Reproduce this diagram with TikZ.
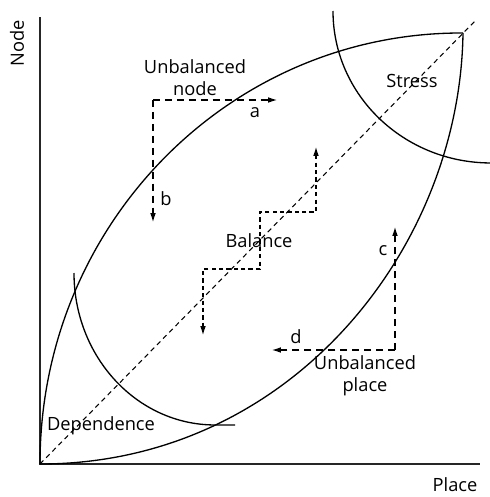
\documentclass[tikz,border=0pt]{standalone}
\usepackage{fontspec}
\setmainfont{Open Sans}
\usetikzlibrary{arrows.meta}

\begin{document}
\begin{tikzpicture}[
  x=0.02cm, y=-0.02cm,
  every node/.style={font=\fontsize{10.4}{12.5}\selectfont, inner sep=0pt, align=center},
  axis/.style={line width=0.9pt, black!85},
  curve/.style={line width=0.75pt},
  move/.style={line width=0.6pt, dash pattern=on 4pt off 2.8pt, -{Latex[length=5pt,width=3.2pt]}},
  stair/.style={line width=0.6pt, dash pattern=on 2.4pt off 1.8pt,
                {Latex[length=5pt,width=3.2pt]}-{Latex[length=5pt,width=3.2pt]}},
  diag/.style={line width=0.6pt, dash pattern=on 2.8pt off 2.2pt}
]
  \useasboundingbox (0,0) rectangle (490,497);

  % axes
  \coordinate (o) at (40,464);
  \coordinate (ytop) at (40,17);
  \coordinate (xend) at (480,464);
  \draw[axis] (ytop) -- (o) -- (xend);
  \node[rotate=90] (ylab) at (17,43) {Node};
  \node (xlab) at (455,485) {Place};

  % lens and balance line
  \coordinate (tip) at (463,33);
  \coordinate (dend) at (477,19);
  \draw[curve] (o) .. controls (40,224) and (230,32) .. (tip);
  \draw[curve] (o) .. controls (290,464) and (460,249) .. (tip);
  \draw[diag] (o) -- (dend);

  % stress and dependence zones
  \draw[curve] (333,11) arc[start angle=180, end angle=270, x radius=3.16cm, y radius=3.04cm];
  \draw[curve] (74,273) arc[start angle=180, end angle=270, x radius=2.82cm, y radius=3.04cm] -- (235,425);
  \node (stress) at (412,81) {Stress};
  \node (dep) at (101,426) {Dependence};

  % unbalanced node
  \coordinate (nc) at (153,100);
  \coordinate (na) at (277,100);
  \coordinate (nb) at (153,222);
  \draw[move] (nc) -- (na);
  \draw[move] (nc) -- (nb);
  \node (unode) at (195,78) {Unbalanced\\node};
  \node (a) at (255,113) {a};
  \node (b) at (166,199) {b};

  % unbalanced place
  \coordinate (pc) at (395,350);
  \coordinate (pcc) at (395,227);
  \coordinate (pd) at (272,350);
  \draw[move] (pc) -- (pcc);
  \draw[move] (pc) -- (pd);
  \node (uplace) at (365,376) {Unbalanced\\place};
  \node (c) at (383,251) {c};
  \node (d) at (296,337) {d};

  % balance steps
  \coordinate (s1) at (316,147);
  \coordinate (s2) at (203,335);
  \draw[stair] (s1) -- (316,212) -- (260,212) -- (260,269) -- (203,269) -- (s2);
  \node (bal) at (259,241) {Balance};
\end{tikzpicture}
\end{document}
